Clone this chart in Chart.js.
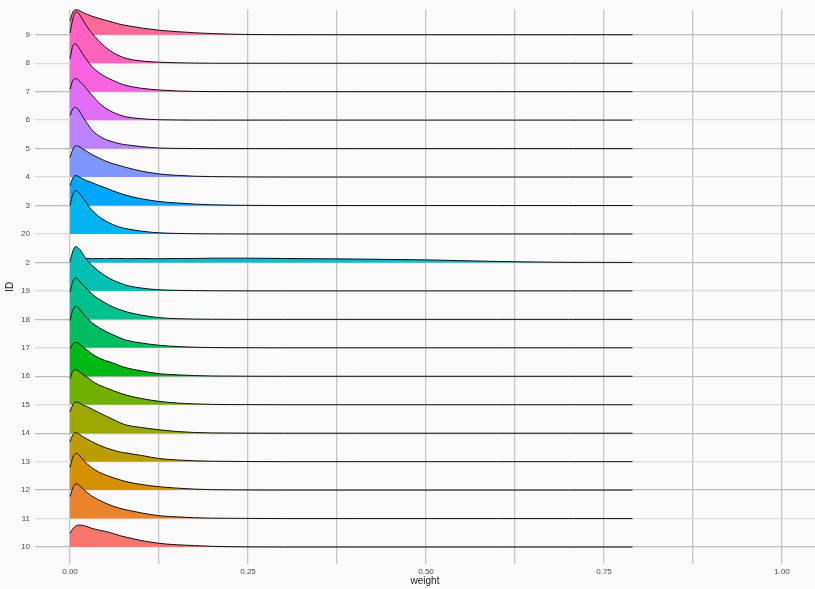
<!DOCTYPE html>
<html>
<head>
<meta charset="utf-8">
<script src="https://cdn.jsdelivr.net/npm/chart.js@4.4.0/dist/chart.umd.min.js"></script>
<style>
  html, body { margin: 0; padding: 0; background: #fafafa; }
  #ridges { display: block; }
</style>
</head>
<body>
<canvas id="ridges" width="815" height="589"></canvas>
<script>
// ID levels, bottom to top (factor order)
var ids = ["10", "11", "12", "13", "14", "15", "16", "17", "18", "19", "2", "20", "3", "4", "5", "6", "7", "8", "9"];

// weight grid where the ridge heights were read
var weightGrid = [0, 0.004, 0.008, 0.012, 0.016, 0.02, 0.025, 0.03, 0.04, 0.05, 0.06, 0.07, 0.08,
    0.1, 0.125, 0.15, 0.175, 0.2, 0.25, 0.3, 0.4, 0.5, 0.6, 0.7, 0.79];

// ridge heights (in row units) per ID
var ridge10 = [0.48, 0.64, 0.74, 0.77, 0.77, 0.75, 0.71, 0.66, 0.60, 0.55, 0.48, 0.40, 0.34, 0.23, 0.13, 0.08, 0.05, 0.025, 0.005, 0, 0, 0, 0, 0, 0];
var ridge11 = [0.77, 1.08, 1.22, 1.20, 1.10, 1.00, 0.90, 0.80, 0.66, 0.54, 0.44, 0.36, 0.30, 0.20, 0.10, 0.06, 0.03, 0.015, 0.005, 0, 0, 0, 0, 0, 0];
var ridge12 = [0.80, 1.15, 1.29, 1.25, 1.14, 1.02, 0.90, 0.80, 0.64, 0.53, 0.44, 0.36, 0.29, 0.20, 0.12, 0.07, 0.035, 0.015, 0.005, 0, 0, 0, 0, 0, 0];
var ridge13 = [0.70, 0.95, 1.02, 0.98, 0.91, 0.85, 0.78, 0.71, 0.59, 0.49, 0.41, 0.34, 0.30, 0.22, 0.11, 0.06, 0.03, 0.015, 0.005, 0, 0, 0, 0, 0, 0];
var ridge14 = [0.75, 1.00, 1.10, 1.08, 1.02, 0.97, 0.92, 0.86, 0.73, 0.61, 0.49, 0.37, 0.28, 0.20, 0.12, 0.06, 0.025, 0.01, 0.003, 0, 0, 0, 0, 0, 0];
var ridge15 = [0.92, 1.18, 1.23, 1.18, 1.10, 1.03, 0.95, 0.85, 0.70, 0.60, 0.50, 0.41, 0.33, 0.22, 0.12, 0.06, 0.03, 0.012, 0.004, 0, 0, 0, 0, 0, 0];
var ridge16 = [0.97, 1.14, 1.19, 1.16, 1.08, 1.00, 0.90, 0.80, 0.65, 0.55, 0.47, 0.37, 0.29, 0.19, 0.09, 0.05, 0.025, 0.01, 0.003, 0, 0, 0, 0, 0, 0];
var ridge17 = [0.96, 1.34, 1.46, 1.40, 1.28, 1.15, 1.02, 0.90, 0.72, 0.58, 0.46, 0.35, 0.26, 0.17, 0.09, 0.045, 0.02, 0.008, 0.002, 0, 0, 0, 0, 0, 0];
var ridge18 = [0.96, 1.34, 1.45, 1.38, 1.27, 1.16, 1.03, 0.91, 0.72, 0.57, 0.44, 0.34, 0.26, 0.15, 0.06, 0.025, 0.01, 0.004, 0, 0, 0, 0, 0, 0, 0];
var ridge19 = [1.01, 1.40, 1.56, 1.50, 1.38, 1.22, 1.05, 0.92, 0.70, 0.52, 0.38, 0.28, 0.19, 0.10, 0.04, 0.02, 0.01, 0.004, 0, 0, 0, 0, 0, 0, 0];
var ridge2  = [0.00, 0.05, 0.10, 0.13, 0.14, 0.13, 0.14, 0.13, 0.14, 0.13, 0.14, 0.14, 0.13, 0.14, 0.13, 0.14, 0.14, 0.15, 0.15, 0.14, 0.12, 0.09, 0.035, 0.005, 0];
var ridge20 = [1.00, 1.40, 1.53, 1.46, 1.34, 1.20, 1.02, 0.86, 0.62, 0.46, 0.33, 0.24, 0.18, 0.10, 0.04, 0.02, 0.008, 0.003, 0, 0, 0, 0, 0, 0, 0];
var ridge3  = [0.70, 0.97, 1.05, 1.02, 0.96, 0.91, 0.86, 0.81, 0.71, 0.62, 0.52, 0.43, 0.35, 0.24, 0.14, 0.09, 0.05, 0.025, 0.006, 0, 0, 0, 0, 0, 0];
var ridge4  = [0.69, 0.98, 1.10, 1.08, 1.02, 0.96, 0.88, 0.80, 0.68, 0.56, 0.47, 0.40, 0.33, 0.21, 0.11, 0.06, 0.03, 0.015, 0.004, 0, 0, 0, 0, 0, 0];
var ridge5  = [1.16, 1.40, 1.45, 1.36, 1.20, 1.04, 0.85, 0.68, 0.46, 0.32, 0.24, 0.17, 0.13, 0.07, 0.02, 0.008, 0.003, 0, 0, 0, 0, 0, 0, 0, 0];
var ridge6  = [1.08, 1.40, 1.46, 1.40, 1.30, 1.20, 1.04, 0.90, 0.62, 0.42, 0.28, 0.18, 0.11, 0.05, 0.015, 0.005, 0, 0, 0, 0, 0, 0, 0, 0, 0];
var ridge7  = [1.15, 1.62, 1.68, 1.56, 1.40, 1.24, 1.07, 0.90, 0.68, 0.52, 0.40, 0.29, 0.21, 0.12, 0.06, 0.025, 0.01, 0.004, 0, 0, 0, 0, 0, 0, 0];
var ridge8  = [1.06, 1.55, 1.80, 1.76, 1.60, 1.44, 1.24, 1.08, 0.80, 0.56, 0.38, 0.25, 0.16, 0.08, 0.035, 0.015, 0.005, 0, 0, 0, 0, 0, 0, 0, 0];
var ridge9  = [0.49, 0.80, 0.88, 0.86, 0.81, 0.76, 0.71, 0.66, 0.58, 0.51, 0.44, 0.37, 0.32, 0.24, 0.16, 0.11, 0.07, 0.04, 0.01, 0.002, 0, 0, 0, 0, 0];

var ridgeHeights = [ridge10, ridge11, ridge12, ridge13, ridge14, ridge15, ridge16, ridge17, ridge18, ridge19,
    ridge2, ridge20, ridge3, ridge4, ridge5, ridge6, ridge7, ridge8, ridge9];

// x axis tick positions (labels only on the quarters)
var xTicks = [0, 0.125, 0.25, 0.375, 0.5, 0.625, 0.75, 0.875, 1];

// ggplot-like hue palette (hcl, c=100, l=65)
function hcl2hex(h, c, l) {
    var rad = h * Math.PI / 180;
    var U = c * Math.cos(rad), V = c * Math.sin(rad);
    var Xn = 95.047, Yn = 100.0, Zn = 108.883;
    var Y = l > 8 ? Yn * Math.pow((l + 16) / 116, 3) : Yn * l / 903.3;
    var t = Xn + 15 * Yn + 3 * Zn;
    var un = 4 * Xn / t, vn = 9 * Yn / t;
    var u = U / (13 * l) + un, v = V / (13 * l) + vn;
    var X = 9 * Y * u / (4 * v);
    var Z = -X / 3 - 5 * Y + 3 * Y / v;
    X /= 100; Y /= 100; Z /= 100;
    var rgb = [
        3.240479 * X - 1.537150 * Y - 0.498535 * Z,
        -0.969256 * X + 1.875992 * Y + 0.041556 * Z,
        0.055648 * X - 0.204043 * Y + 1.057311 * Z
    ];
    return "#" + rgb.map(function (c) {
        c = c <= 0.0031308 ? 12.92 * c : 1.055 * Math.pow(c, 1 / 2.4) - 0.055;
        c = Math.max(0, Math.min(1, c));
        var s = Math.round(c * 255).toString(16);
        return s.length < 2 ? "0" + s : s;
    }).join("");
}

var palette = ids.map(function (_, i) {
    return hcl2hex(15 + 360 * i / ids.length, 100, 65);
});

// datasets: each ridge sits on its own row
var datasets = ridgeHeights.map(function (h, i) {
    return {
        label: ids[i],
        data: weightGrid.map(function (w, j) { return { x: w, y: i + h[j] }; }),
        backgroundColor: palette[i],
        borderColor: "#111111",
        borderWidth: 1,
        pointRadius: 0,
        cubicInterpolationMode: "monotone",
        fill: { value: i },
        clip: false
    };
});

var bgPlugin = {
    id: "bg",
    beforeDraw: function (chart) {
        var ctx = chart.ctx;
        ctx.save();
        ctx.fillStyle = "#fafafa";
        ctx.fillRect(0, 0, chart.width, chart.height);
        ctx.restore();
    }
};

new Chart(document.getElementById("ridges").getContext("2d"), {
    type: "line",
    data: { datasets: datasets },
    plugins: [bgPlugin],
    options: {
        responsive: false,
        animation: false,
        devicePixelRatio: 1,
        layout: { padding: { top: 9, right: 0, left: 0, bottom: 0 } },
        plugins: {
            legend: { display: false },
            tooltip: { enabled: false }
        },
        scales: {
            x: {
                type: "linear",
                min: -0.0492,
                max: 1.0463,
                afterBuildTicks: function (scale) {
                    scale.ticks = xTicks.map(function (v) { return { value: v }; });
                },
                afterFit: function (scale) { scale.height = 25; },
                ticks: {
                    autoSkip: false,
                    maxRotation: 0,
                    padding: 3,
                    color: "#4d4d4d",
                    font: { family: "Liberation Sans", size: 8 },
                    callback: function (v) {
                        return (Math.round(v * 1000) % 250 === 0) ? v.toFixed(2) : "";
                    }
                },
                grid: { color: "#c6c6c6", lineWidth: 1.3, drawTicks: false },
                border: { display: false },
                title: {
                    display: true,
                    text: "weight",
                    color: "#222222",
                    padding: { top: 2, bottom: 2 },
                    font: { family: "Liberation Sans", size: 10 }
                }
            },
            y: {
                type: "linear",
                min: -0.596,
                max: 18.877,
                afterBuildTicks: function (scale) {
                    scale.ticks = ids.map(function (_, i) { return { value: i }; });
                },
                afterFit: function (scale) { scale.width = 35; },
                ticks: {
                    autoSkip: false,
                    padding: 5,
                    color: "#4d4d4d",
                    font: { family: "Liberation Sans", size: 8 },
                    callback: function (v) { return ids[v]; }
                },
                grid: {
                    color: function (c) { return c.index % 2 === 0 ? "#bdbdbd" : "#dcdcdc"; },
                    lineWidth: 1.3,
                    drawTicks: false
                },
                border: { display: false },
                title: {
                    display: true,
                    text: "ID",
                    color: "#222222",
                    padding: { top: 4, bottom: 4 },
                    font: { family: "Liberation Sans", size: 10 }
                }
            }
        }
    }
});
</script>
</body>
</html>
